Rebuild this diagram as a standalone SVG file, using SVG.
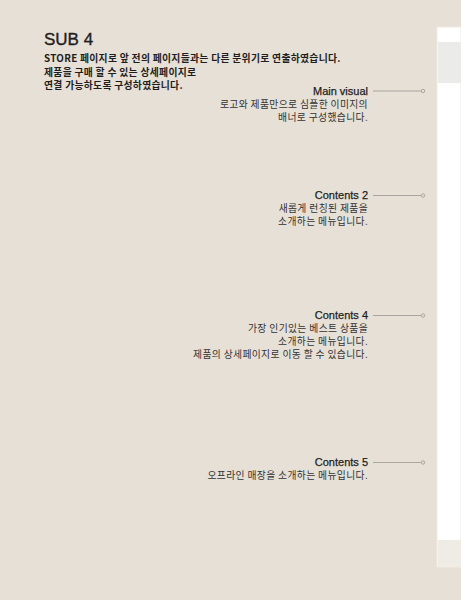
<svg xmlns="http://www.w3.org/2000/svg" width="461" height="600" viewBox="0 0 461 600">
<style>
.t{font-family:"Noto Sans CJK KR","Liberation Sans",sans-serif;fill:#1e1e1e}
.h{font-size:9.8px;font-weight:bold;letter-spacing:0.3px}
.l{font-family:"Liberation Sans","Noto Sans CJK KR",sans-serif;font-size:11px;fill:#1e1e1e;stroke:#1e1e1e;stroke-width:0.25;text-anchor:end}
.d{font-family:"Noto Sans CJK KR","Liberation Sans",sans-serif;font-size:9.8px;letter-spacing:0.35px;fill:#333333;text-anchor:end}
.c{stroke:#9a9690;stroke-width:0.8;fill:none}
.dot{fill:#e7e0d7;stroke:#9a9690;stroke-width:0.8}
</style>
<rect width="461" height="600" fill="#e7e0d7"/>
<g id="panel">
<rect x="437" y="27" width="24" height="540" fill="#ffffff" stroke="#efeae2" stroke-width="1"/>
<rect x="438" y="42" width="23" height="41" fill="#ebebea"/>
<rect x="438" y="540" width="23" height="27" fill="#efebe5"/>
</g>
<g id="header">
<text x="44" y="45" font-family="Liberation Sans, sans-serif" font-size="17" fill="#1e1e1e" stroke="#1e1e1e" stroke-width="0.35">SUB 4</text>
<text class="t h" x="44" y="62">STORE 페이지로 앞 전의 페이지들과는 다른 분위기로 연출하였습니다.</text>
<text class="t h" x="44" y="75.5">제품을 구매 할 수 있는 상세페이지로</text>
<text class="t h" x="44" y="89">연결 가능하도록 구성하였습니다.</text>
</g>
<g id="main-visual">
<text class="l" x="368" y="95">Main visual</text>
<text class="d" x="368" y="108">로고와 제품만으로 심플한 이미지의</text>
<text class="d" x="368" y="121">배너로 구성했습니다.</text>
</g>
<g id="contents-2">
<text class="l" x="368" y="199">Contents 2</text>
<text class="d" x="368" y="212">새롭게 런칭된 제품을</text>
<text class="d" x="368" y="225">소개하는 메뉴입니다.</text>
</g>
<g id="contents-4">
<text class="l" x="368" y="319">Contents 4</text>
<text class="d" x="368" y="332">가장 인기있는 베스트 상품을</text>
<text class="d" x="368" y="345">소개하는 메뉴입니다.</text>
<text class="d" x="368" y="358">제품의 상세페이지로 이동 할 수 있습니다.</text>
</g>
<g id="contents-5">
<text class="l" x="368" y="466">Contents 5</text>
<text class="d" x="368" y="479">오프라인 매장을 소개하는 메뉴입니다.</text>
</g>
<g id="connectors">
<line class="c" x1="373" y1="91" x2="421" y2="91"/><circle class="dot" cx="423" cy="91" r="1.7"/>
<line class="c" x1="373" y1="195.5" x2="421" y2="195.5"/><circle class="dot" cx="423" cy="195.5" r="1.7"/>
<line class="c" x1="373" y1="315.5" x2="421" y2="315.5"/><circle class="dot" cx="423" cy="315.5" r="1.7"/>
<line class="c" x1="373" y1="462.5" x2="421" y2="462.5"/><circle class="dot" cx="423" cy="462.5" r="1.7"/>
</g>
</svg>
